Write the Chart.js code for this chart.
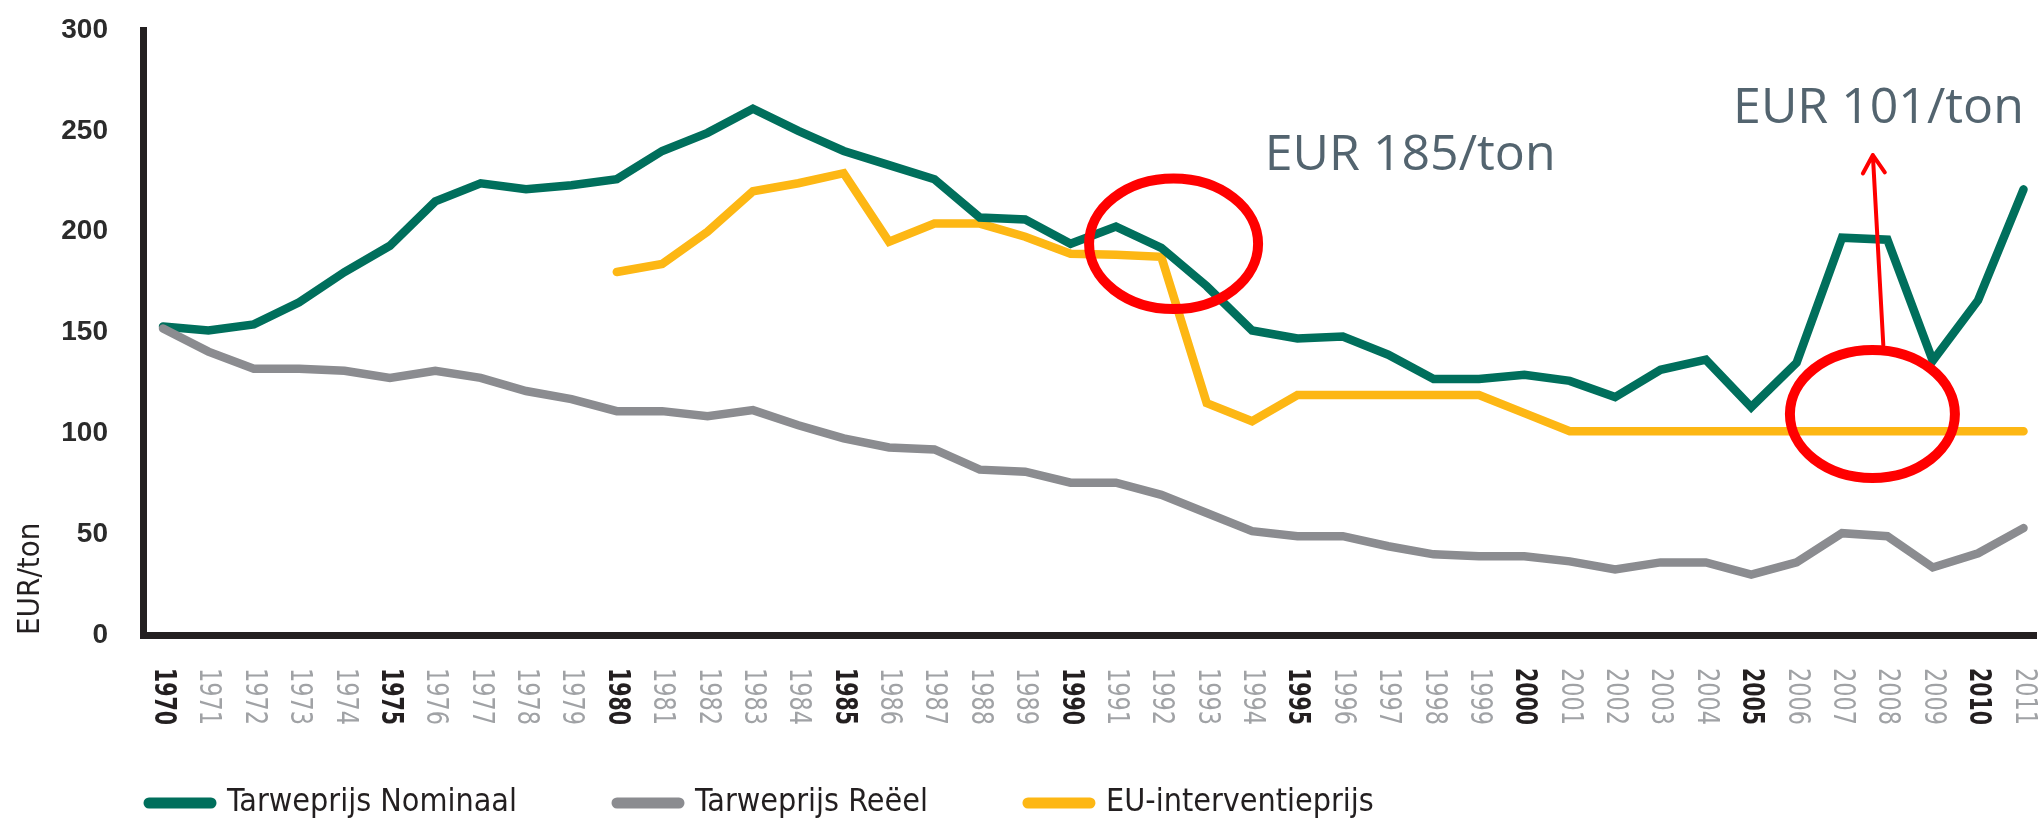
<!DOCTYPE html>
<html>
<head>
<meta charset="utf-8">
<title>Tarweprijs</title>
<script src="https://cdn.jsdelivr.net/npm/chart.js@4.4.1/dist/chart.umd.min.js"></script>
<style>
    html, body { margin: 0; padding: 0; background: #ffffff; }
    #wrap { width: 2040px; height: 824px; }
</style>
</head>
<body>
<div id="wrap"><canvas id="wheatChart"></canvas></div>
<script>
    const years = [
        1970, 1971, 1972, 1973, 1974, 1975, 1976, 1977, 1978, 1979,
        1980, 1981, 1982, 1983, 1984, 1985, 1986, 1987, 1988, 1989,
        1990, 1991, 1992, 1993, 1994, 1995, 1996, 1997, 1998, 1999,
        2000, 2001, 2002, 2003, 2004, 2005, 2006, 2007, 2008, 2009,
        2010, 2011
    ];
    const boldYears = [1970, 1975, 1980, 1985, 1990, 1995, 2000, 2005, 2010];

    const nominal = [
        153, 151, 154, 165, 180, 193, 215, 224, 221, 223,
        226, 240, 249, 261, 250, 240, 233, 226, 207, 206,
        194, 202.5, 192, 173, 151, 147, 148, 139, 127, 127,
        129, 126, 118, 131.5, 136.5, 113, 135, 197, 196, 136,
        166, 221
    ];
    const real = [
        152, 140.5, 132, 132, 131, 127.5, 131, 127.5, 121, 117,
        111, 111, 108.5, 111.5, 104, 97.5, 93, 92, 82, 81,
        75.5, 75.5, 69.5, 60.5, 51.5, 49, 49, 44, 40, 39,
        39, 36.5, 32.5, 36, 36, 30, 36, 50.5, 49, 33.5,
        40.5, 53
    ];
    const intervention = [
        null, null, null, null, null, null, null, null, null, null,
        180, 184, 200, 220, 224, 229, 195, 204, 204, 197.5,
        189, 188.5, 187.5, 115, 106, 119, 119, 119, 119, 119,
        110, 101, 101, 101, 101, 101, 101, 101, 101, 101,
        101, 101
    ];
    const yTicks = [0, 50, 100, 150, 200, 250, 300];
    const seriesNames = ["Tarweprijs Nominaal", "Tarweprijs Reëel", "EU-interventieprijs"];

    // red marks and notes laid over the chart, anchored in data units
    const noteTexts = ["EUR 185/ton", "EUR 101/ton"];
    const noteAnchors = [[1994.28, 230.6], [2004.6, 253.9]];
    const circleAnchors = [[1992.27, 194], [2007.67, 109.6]];
    const arrowAnchors = [[2007.91, 143.8], [2007.68, 238]];

    const narrowFont = "'Liberation Sans Narrow', 'DejaVu Sans Condensed', 'Roboto', sans-serif";

    let yearLabels = {
        id: "yearLabels",
        afterDraw: function(chart) {
            let ctx = chart.ctx;
            let xScale = chart.scales.x;
            let top = xScale.top + 33;

            years.forEach(function(year) {
                let bold = boldYears.includes(year);
                let text = String(year);
                ctx.save();
                ctx.font = (bold ? "bold " : "") + "31px " + narrowFont;
                ctx.fillStyle = bold ? "#231f20" : "#a0a2a5";
                ctx.translate(xScale.getPixelForValue(year) + 3, top);
                ctx.rotate(Math.PI / 2);
                ctx.scale(57 / ctx.measureText(text).width, 1);
                ctx.textAlign = "left";
                ctx.textBaseline = "alphabetic";
                ctx.fillText(text, 0, 11);
                ctx.restore();
            });
        }
    };

    let overlays = {
        id: "overlays",
        afterDatasetsDraw: function(chart) {
            let ctx = chart.ctx;
            let xs = chart.scales.x;
            let ys = chart.scales.y;
            let radii = [[84.5, 65.3], [82.5, 64]];

            ctx.save();
            ctx.strokeStyle = "#ff0000";
            ctx.lineWidth = 10;
            circleAnchors.forEach(function(c, i) {
                ctx.beginPath();
                ctx.ellipse(xs.getPixelForValue(c[0]), ys.getPixelForValue(c[1]), radii[i][0], radii[i][1], 0, 0, Math.PI * 2);
                ctx.stroke();
            });

            let x1 = xs.getPixelForValue(arrowAnchors[0][0]);
            let y1 = ys.getPixelForValue(arrowAnchors[0][1]);
            let x2 = xs.getPixelForValue(arrowAnchors[1][0]);
            let y2 = ys.getPixelForValue(arrowAnchors[1][1]);
            let angle = Math.atan2(y2 - y1, x2 - x1);
            ctx.lineWidth = 4;
            ctx.lineCap = "round";
            ctx.lineJoin = "round";
            ctx.beginPath();
            ctx.moveTo(x1, y1);
            ctx.lineTo(x2, y2);
            ctx.moveTo(x2 - 21 * Math.cos(angle - 0.55), y2 - 21 * Math.sin(angle - 0.55));
            ctx.lineTo(x2, y2);
            ctx.lineTo(x2 - 21 * Math.cos(angle + 0.55), y2 - 21 * Math.sin(angle + 0.55));
            ctx.stroke();

            ctx.fillStyle = "#53646f";
            ctx.font = "50px 'Open Sans', 'Noto Sans', sans-serif";
            ctx.textAlign = "left";
            ctx.textBaseline = "alphabetic";
            noteTexts.forEach(function(text, i) {
                ctx.fillText(text, xs.getPixelForValue(noteAnchors[i][0]), ys.getPixelForValue(noteAnchors[i][1]));
            });
            ctx.restore();
        }
    };

    let legendShift = {
        id: "legendShift",
        afterLayout: function(chart) {
            chart.legend.left = 49;
        }
    };

    function lineSet(label, data, color, order) {
        return {
            label: label,
            data: data,
            borderColor: color,
            backgroundColor: color,
            borderWidth: 8.5,
            borderCapStyle: "round",
            borderJoinStyle: "miter",
            pointRadius: 0,
            tension: 0,
            fill: false,
            order: order
        };
    }

    let ctx = document.getElementById("wheatChart");
    let wheatChart = new Chart(ctx, {
        type: "line",
        data: {
            labels: years,
            datasets: [
                lineSet(seriesNames[0], nominal, "#006f5c", 1),
                lineSet(seriesNames[1], real, "#8b8c90", 0),
                lineSet(seriesNames[2], intervention, "#fdb714", 2)
            ]
        },
        options: {
            responsive: true,
            maintainAspectRatio: false,
            animation: false,
            devicePixelRatio: 1,
            layout: { padding: { top: 30, right: 4, left: 0, bottom: 0 } },
            scales: {
                x: {
                    type: "linear",
                    min: 1969.559,
                    max: 2011.275,
                    grid: { display: false },
                    border: { display: true, color: "#231f20", width: 7 },
                    ticks: { display: false },
                    afterFit: function(scale) { scale.height = 52; }
                },
                y: {
                    min: 0,
                    max: 300,
                    grid: { display: false, drawTicks: true, tickLength: 31, tickColor: "rgba(0,0,0,0)" },
                    border: { display: true, color: "#231f20", width: 7 },
                    afterBuildTicks: function(scale) {
                        scale.ticks = yTicks.map(v => ({ value: v }));
                    },
                    afterFit: function(scale) { scale.width = 143; },
                    ticks: {
                        padding: 4,
                        color: "#2b2b2b",
                        font: { family: "'Liberation Sans', Arial, sans-serif", size: 28, weight: "bold" }
                    },
                    title: {
                        display: true,
                        text: "EUR/ton",
                        align: "start",
                        color: "#231f20",
                        padding: { top: 12, bottom: 0 },
                        font: { family: narrowFont, size: 31 }
                    }
                }
            },
            plugins: {
                tooltip: { enabled: false },
                legend: {
                    position: "bottom",
                    align: "start",
                    maxHeight: 137,
                    labels: {
                        usePointStyle: true,
                        pointStyleWidth: 62,
                        padding: 100,
                        color: "#231f20",
                        font: { family: narrowFont, size: 32 },
                        sort: (a, b) => a.datasetIndex - b.datasetIndex,
                        generateLabels: function(chart) {
                            let items = Chart.defaults.plugins.legend.labels.generateLabels(chart);
                            items.forEach(function(item) {
                                item.pointStyle = "line";
                                item.lineWidth = 11;
                                item.lineCap = "round";
                            });
                            return items;
                        }
                    }
                }
            }
        },
        plugins: [yearLabels, overlays, legendShift]
    });
</script>
</body>
</html>
